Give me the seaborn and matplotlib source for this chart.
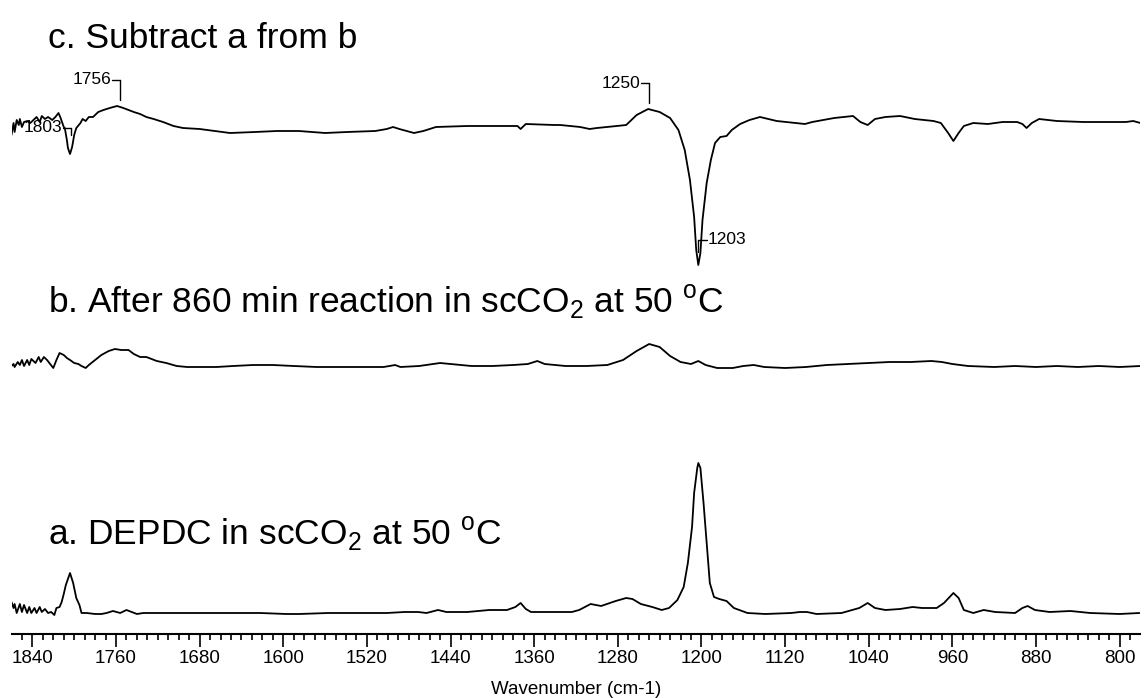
import matplotlib
matplotlib.use("Agg")
import matplotlib.pyplot as plt
import seaborn as sns
import numpy as np
import pandas as pd
from matplotlib.ticker import MultipleLocator

# --- spectra (wavenumber in cm-1, absorbance in a.u.) ---
# a. DEPDC in scCO2 at 50 C
wn_a = [1860, 1858, 1857, 1855, 1852, 1850, 1848, 1845, 1843, 1841, 1838, 1836, 1833, 1831,
        1828, 1825, 1822, 1819, 1817, 1814, 1812, 1810, 1808, 1804, 1801, 1798, 1795, 1793,
        1788, 1780, 1774, 1769, 1763, 1756, 1750, 1745, 1740, 1734, 1724, 1712, 1692, 1673,
        1648, 1622, 1597, 1585, 1557, 1522, 1501, 1484, 1471, 1463, 1452, 1444, 1424, 1403,
        1386, 1378, 1373, 1368, 1363, 1348, 1324, 1317, 1306, 1301, 1296, 1282, 1272, 1266,
        1258, 1247, 1238, 1231, 1223, 1217, 1213, 1209, 1207, 1204, 1203, 1201, 1198, 1195,
        1192, 1188, 1183, 1176, 1169, 1156, 1139, 1114, 1106, 1099, 1090, 1066, 1049, 1041,
        1034, 1024, 1010, 998, 989, 975, 968, 959, 954, 949, 940, 930, 919, 900, 893, 888,
        881, 867, 847, 828, 800, 781]
abs_a = [0.11, 0.05, 0.09, 0.00, 0.09, 0.01, 0.08, 0.00, 0.06, 0.00, 0.05, 0.00, 0.06, 0.01,
         0.04, 0.00, 0.01, -0.02, 0.05, 0.06, 0.11, 0.19, 0.28, 0.40, 0.30, 0.15, 0.08, 0.00,
         0.00, -0.01, -0.01, 0.00, 0.02, 0.00, 0.03, 0.01, -0.01, 0.00, 0.00, 0.00, 0.00, 0.00,
         0.00, 0.00, -0.01, -0.01, 0.00, 0.00, 0.00, 0.01, 0.01, 0.00, 0.03, 0.01, 0.01, 0.03,
         0.03, 0.06, 0.10, 0.04, 0.01, 0.01, 0.01, 0.03, 0.09, 0.08, 0.07, 0.12, 0.15, 0.14,
         0.09, 0.06, 0.03, 0.05, 0.13, 0.26, 0.50, 0.86, 1.20, 1.45, 1.50, 1.45, 1.10, 0.70,
         0.30, 0.16, 0.14, 0.12, 0.05, 0.00, -0.01, 0.00, 0.01, 0.01, -0.01, 0.00, 0.05, 0.10,
         0.05, 0.03, 0.04, 0.06, 0.05, 0.05, 0.10, 0.20, 0.15, 0.03, 0.00, 0.03, 0.01, 0.00, 0.05, 0.07,
         0.03, 0.01, 0.02, 0.00, -0.01, 0.00]

# b. after 860 min reaction
wn_b = [1860, 1858, 1857, 1854, 1852, 1850, 1848, 1845, 1843, 1841, 1837, 1834, 1832, 1829,
        1826, 1823, 1820, 1817, 1814, 1810, 1807, 1804, 1800, 1796, 1793, 1789, 1786, 1780,
        1774, 1767, 1761, 1755, 1748, 1743, 1737, 1731, 1721, 1712, 1702, 1692, 1680, 1664,
        1648, 1629, 1610, 1590, 1568, 1552, 1527, 1504, 1493, 1488, 1470, 1450, 1440, 1420,
        1400, 1380, 1366, 1357, 1350, 1330, 1310, 1290, 1275, 1262, 1250, 1240, 1230, 1220,
        1210, 1203, 1196, 1185, 1170, 1160, 1150, 1140, 1120, 1100, 1080, 1060, 1040, 1020,
        1000, 980, 970, 960, 945, 920, 900, 880, 860, 840, 820, 800, 780]
abs_b = [0.00, 0.02, -0.01, 0.04, 0.01, 0.06, 0.00, 0.06, 0.01, 0.07, 0.03, 0.09, 0.04, 0.09,
         0.06, 0.02, -0.02, 0.06, 0.13, 0.11, 0.08, 0.06, 0.03, 0.02, 0.00, -0.02, 0.01, 0.06,
         0.11, 0.15, 0.17, 0.16, 0.16, 0.12, 0.09, 0.09, 0.05, 0.03, 0.00, -0.01, -0.01, -0.01,
         0.00, 0.01, 0.01, 0.00, -0.01, -0.01, -0.01, -0.01, 0.01, -0.01, 0.00, 0.03, 0.02, 0.00,
         0.00, 0.01, 0.02, 0.05, 0.02, 0.00, 0.00, 0.01, 0.06, 0.15, 0.22, 0.19, 0.10, 0.04,
         0.02, 0.05, 0.01, -0.02, -0.02, 0.00, 0.01, -0.01, -0.02, -0.01, 0.01, 0.02, 0.03, 0.04,
         0.04, 0.05, 0.04, 0.02, 0.00, -0.01, 0.00, -0.01, 0.00, -0.01, 0.00, -0.01, 0.00]

# c. difference spectrum b - a
wn_c = [1860, 1858, 1857, 1855, 1853, 1852, 1850, 1848, 1845, 1842, 1839, 1836, 1833, 1831,
        1828, 1825, 1821, 1818, 1815, 1813, 1810, 1809, 1807, 1806, 1804, 1802, 1800, 1798,
        1794, 1792, 1789, 1786, 1782, 1777, 1772, 1766, 1759, 1753, 1748, 1743, 1737, 1731,
        1724, 1715, 1705, 1696, 1680, 1651, 1627, 1606, 1585, 1560, 1539, 1512, 1501, 1495,
        1489, 1475, 1466, 1454, 1424, 1396, 1376, 1373, 1368, 1341, 1335, 1316, 1307, 1300,
        1281, 1272, 1262, 1251, 1240, 1230, 1222, 1216, 1211, 1207, 1205, 1203, 1201, 1199,
        1195, 1191, 1187, 1182, 1176, 1171, 1163, 1154, 1144, 1128, 1101, 1094, 1073, 1055,
        1048, 1041, 1034, 1024, 1010, 996, 978, 971, 964, 959, 954, 949, 940, 926, 912, 898,
        893, 889, 884, 877, 860, 835, 814, 794, 787, 780]
abs_c = [-0.05, 0.07, -0.02, 0.10, 0.05, 0.11, 0.03, 0.08, 0.09, 0.07, 0.10, 0.13, 0.08, 0.14,
         0.11, 0.13, 0.10, 0.13, 0.17, 0.12, 0.03, 0.02, -0.10, -0.18, -0.24, -0.17, -0.05, 0.02,
         0.07, 0.11, 0.09, 0.13, 0.13, 0.18, 0.20, 0.22, 0.24, 0.22, 0.20, 0.18, 0.16, 0.13,
         0.11, 0.08, 0.04, 0.02, 0.01, -0.03, -0.02, -0.01, -0.01, -0.03, -0.02, -0.01, 0.01, 0.03,
         0.01, -0.03, -0.01, 0.03, 0.04, 0.04, 0.04, 0.01, 0.06, 0.05, 0.05, 0.03, 0.01, 0.02,
         0.04, 0.05, 0.15, 0.21, 0.18, 0.12, 0.00, -0.20, -0.50, -0.87, -1.20, -1.35, -1.23, -0.90,
         -0.53, -0.30, -0.13, -0.07, -0.06, 0.00, 0.06, 0.10, 0.13, 0.09, 0.06, 0.08, 0.12, 0.14,
         0.08, 0.05, 0.11, 0.13, 0.14, 0.11, 0.09, 0.07, -0.03, -0.11, -0.03, 0.04, 0.07, 0.06, 0.08, 0.08,
         0.06, 0.02, 0.07, 0.11, 0.09, 0.08, 0.08, 0.08, 0.09, 0.07]

titles = ["a. DEPDC in scCO$_2$ at 50 $^\\mathrm{o}$C",
          "b. After 860 min reaction in scCO$_2$ at 50 $^\\mathrm{o}$C",
          "c. Subtract a from b"]

# peak labels on the difference spectrum
peak_labels = ["1803", "1756", "1250", "1203"]
peak_wn = [1803, 1756, 1250, 1203]

# --- layout / style (not data) ---
offsets = [0.21, 2.68, 5.04]
title_base_px = [545, 313, 48]
# bracket corner height (trace units), leg length, side of label
brackets = [(0.02, -0.07, "left"), (0.50, -0.20, "left"), (0.47, -0.20, "left"), (-1.10, -0.12, "right")]

sns.set_style("white")
plt.rcParams["font.family"] = ["Liberation Sans", "DejaVu Sans"]
plt.rcParams["mathtext.fontset"] = "custom"
plt.rcParams["mathtext.rm"] = "Liberation Sans"
plt.rcParams["mathtext.it"] = "Liberation Sans:italic"
plt.rcParams["mathtext.bf"] = "Liberation Sans:bold"
plt.rcParams["text.color"] = "black"
plt.rcParams["axes.labelcolor"] = "black"
plt.rcParams["xtick.color"] = "black"

W, H = 1144, 698
fig = plt.figure(figsize=(W / 100, H / 100), dpi=100)
ax = fig.add_axes([12 / W, 64 / H, 1128 / W, 634 / H])

frames = []
for name, wn, ab, off in [("a", wn_a, abs_a, offsets[0]),
                          ("b", wn_b, abs_b, offsets[1]),
                          ("c", wn_c, abs_c, offsets[2])]:
    frames.append(pd.DataFrame({"wavenumber": wn,
                                "signal": np.array(ab) + off,
                                "spectrum": name}))
df = pd.concat(frames, ignore_index=True)

sns.lineplot(data=df, x="wavenumber", y="signal", units="spectrum", estimator=None,
             color="black", linewidth=1.3, ax=ax, legend=False)

# annotations on trace c
for lab, w, (yc, leg, side) in zip(peak_labels, peak_wn, brackets):
    off = offsets[2]
    dx = 8 if side == "left" else -8
    ax.plot([w, w], [yc + off, yc + leg + off], color="black", lw=1.0)
    ax.plot([w, w + dx], [yc + off, yc + off], color="black", lw=1.0)
    ax.text(w + dx * 1.1, yc + off, lab, fontsize=12.5, color="black",
            ha="right" if side == "left" else "left", va="center")

for t, yb in zip(titles, title_base_px):
    fig.text(48 / W, 1 - yb / H, t, fontsize=25.5, color="black", ha="left", va="baseline")

ax.set_xlim(1859.5, 780.5)
ax.set_ylim(0, 6.34)
ax.xaxis.set_major_locator(MultipleLocator(80))
ax.xaxis.set_minor_locator(MultipleLocator(10))
ax.tick_params(axis="x", which="major", direction="out", length=9, width=1.2,
               labelsize=13.5, pad=2.5, bottom=True, colors="black")
ax.tick_params(axis="x", which="minor", direction="out", length=4.5, width=1.2, bottom=True,
               colors="black")
ax.set_yticks([])
for s in ["left", "right", "top"]:
    ax.spines[s].set_visible(False)
ax.spines["bottom"].set_linewidth(1.5)
ax.spines["bottom"].set_color("black")
ax.set_ylabel("")
ax.set_xlabel("Wavenumber (cm-1)", fontsize=13.5, labelpad=10)

fig.savefig("out.png", dpi=100)
